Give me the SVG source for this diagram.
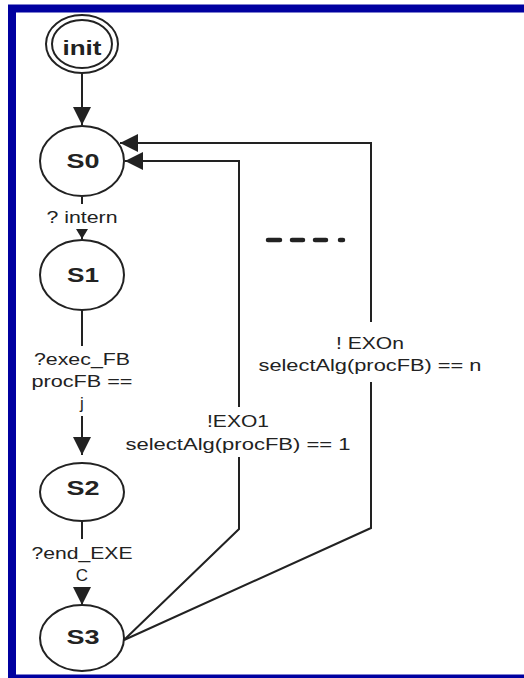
<svg xmlns="http://www.w3.org/2000/svg" width="524" height="678" viewBox="0 0 524 678">
<style>
.st{fill:#fff;stroke:#222;stroke-width:2}
.sl{font-family:"Liberation Sans",Arial,sans-serif;font-weight:bold;font-size:20px;fill:#222;text-anchor:middle}
.lb{font-family:"Liberation Sans",Arial,sans-serif;font-size:17px;fill:#222;text-anchor:middle}
.cn{fill:none;stroke:#222;stroke-width:2}
.bg{fill:#fff;stroke:none}
</style>
<defs>
<marker id="ah" markerUnits="userSpaceOnUse" markerWidth="18" markerHeight="18" refX="18" refY="9" orient="auto">
<path d="M0,0 L18,9 L0,18 z" fill="#222"/>
</marker>
<marker id="ahs" markerUnits="userSpaceOnUse" markerWidth="10" markerHeight="12" refX="10" refY="6" orient="auto">
<path d="M0,0 L10,6 L0,12 z" fill="#222"/>
</marker>
</defs>
<rect x="0" y="0" width="524" height="678" fill="#fff"/>
<rect x="12" y="8.5" width="540" height="670" fill="none" stroke="#0000A0" stroke-width="8"/>
<g id="connectors">
<path class="cn" d="M82,73 V125" marker-end="url(#ah)"/>
<path class="cn" d="M82,197 V239" marker-end="url(#ahs)"/>
<path class="cn" d="M82,310 V455" marker-end="url(#ah)"/>
<path class="cn" d="M82,522 V605" marker-end="url(#ah)"/>
<path class="cn" d="M124,640 L239,529 V161 H125" marker-end="url(#ah)"/>
<path class="cn" d="M124,640 L371,528 V143 H120" marker-end="url(#ah)"/>
<rect class="bg" x="44" y="204" width="76" height="25"/>
<text class="lb" x="82" y="223" textLength="71" lengthAdjust="spacingAndGlyphs">? intern</text>
<rect class="bg" x="30" y="346" width="104" height="70"/>
<text class="lb" x="82" y="365" textLength="96" lengthAdjust="spacingAndGlyphs">?exec_FB</text>
<text class="lb" x="82" y="387" textLength="101" lengthAdjust="spacingAndGlyphs">procFB ==</text>
<text class="lb" x="82" y="409">j</text>
<rect class="bg" x="30" y="539" width="104" height="48"/>
<text class="lb" x="82" y="559" textLength="101" lengthAdjust="spacingAndGlyphs">?end_EXE</text>
<text class="lb" x="82" y="581">C</text>
<rect class="bg" x="126" y="407" width="226" height="50"/>
<text class="lb" x="238" y="427" textLength="62" lengthAdjust="spacingAndGlyphs">!EXO1</text>
<text class="lb" x="238" y="450" textLength="225" lengthAdjust="spacingAndGlyphs">selectAlg(procFB) == 1</text>
<rect class="bg" x="256" y="322" width="228" height="60"/>
<text class="lb" x="370" y="349" textLength="68" lengthAdjust="spacingAndGlyphs">! EXOn</text>
<text class="lb" x="370" y="371" textLength="223" lengthAdjust="spacingAndGlyphs">selectAlg(procFB) == n</text>
<path d="M268,240 H280 M292,240 H303 M315,240 H326 M340,240 H343" fill="none" stroke="#222" stroke-width="4.5" stroke-linecap="round"/>
</g>
<g id="init">
<ellipse class="st" cx="82" cy="44" rx="36" ry="29"/>
<ellipse class="st" cx="82" cy="44" rx="30" ry="24"/>
<text class="sl" x="82" y="55" textLength="39" lengthAdjust="spacingAndGlyphs">init</text>
</g>
<g id="S0">
<ellipse class="st" cx="82" cy="161" rx="42" ry="35"/>
<text class="sl" x="83" y="168" textLength="33" lengthAdjust="spacingAndGlyphs">S0</text>
</g>
<g id="S1">
<ellipse class="st" cx="82" cy="275" rx="42" ry="35"/>
<text class="sl" x="83" y="282" textLength="32" lengthAdjust="spacingAndGlyphs">S1</text>
</g>
<g id="S2">
<ellipse class="st" cx="82" cy="492" rx="42" ry="29"/>
<text class="sl" x="83" y="495" textLength="33" lengthAdjust="spacingAndGlyphs">S2</text>
</g>
<g id="S3">
<ellipse class="st" cx="82" cy="638" rx="42" ry="33"/>
<text class="sl" x="83" y="644" textLength="33" lengthAdjust="spacingAndGlyphs">S3</text>
</g>
</svg>
